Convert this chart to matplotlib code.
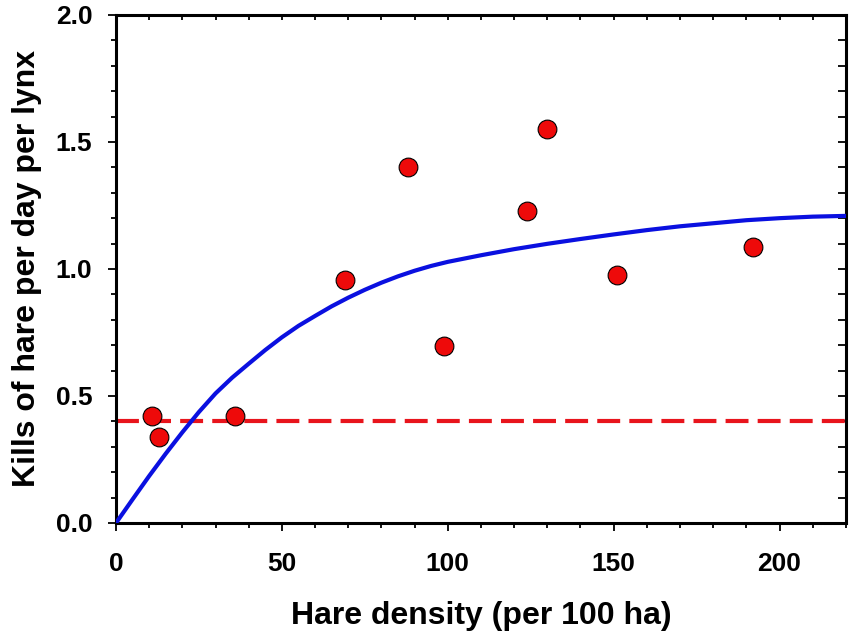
import matplotlib
matplotlib.use("Agg")
import matplotlib.pyplot as plt
from matplotlib.ticker import MultipleLocator

plt.rcParams['font.family'] = ['Liberation Sans', 'DejaVu Sans']
plt.rcParams['font.weight'] = 'bold'

# observed kills (hare density per 100 ha, kills per day per lynx)
hare_density = [11, 13, 36, 69, 88, 99, 124, 130, 151, 192]
kills = [0.42, 0.34, 0.42, 0.955, 1.40, 0.695, 1.23, 1.55, 0.975, 1.085]

# fitted functional response
curve_x = [0, 5, 10, 15, 20, 25, 30, 35, 40, 45, 50, 55, 60, 65, 70, 75,
           80, 85, 90, 95, 100, 110, 120, 130, 140, 150, 160, 170, 180,
           190, 200, 210, 220]
curve_y = [0.0, 0.093, 0.185, 0.273, 0.357, 0.437, 0.510, 0.572, 0.627,
           0.681, 0.731, 0.776, 0.815, 0.853, 0.887, 0.918, 0.946, 0.971,
           0.993, 1.012, 1.028, 1.054, 1.078, 1.099, 1.118, 1.136, 1.153,
           1.168, 1.180, 1.192, 1.200, 1.206, 1.209]

threshold = 0.4

fig = plt.figure(figsize=(8.51, 6.37), dpi=100)
ax = fig.add_axes([0.1363, 0.179, 0.994 - 0.1363, 0.9765 - 0.179])

ax.axhline(threshold, color='#e8141c', lw=3, dashes=(5.5, 2.2), zorder=2)
ax.plot(curve_x, curve_y, color='#0a10e0', lw=3, zorder=3,
        solid_joinstyle='round')
ax.plot(hare_density, kills, 'o', ms=13.5, mfc='#ee0a0a', mec='black',
        mew=0.8, zorder=4, clip_on=False)

ax.set_xlim(0, 220)
ax.set_ylim(0, 2.0)
ax.xaxis.set_major_locator(MultipleLocator(50))
ax.xaxis.set_minor_locator(MultipleLocator(10))
ax.yaxis.set_major_locator(MultipleLocator(0.5))
ax.yaxis.set_minor_locator(MultipleLocator(0.1))
ax.yaxis.set_major_formatter(lambda v, p: f"{v:.1f}")

for s in ax.spines.values():
    s.set_linewidth(2.2)

ax.tick_params(which='major', direction='out', length=6, width=1.3,
               labelsize=19, pad=15)
ax.tick_params(axis='y', which='major', pad=11)
ax.tick_params(which='minor', direction='out', length=3.5, width=1.3)

top = ax.secondary_xaxis('top')
top.xaxis.set_major_locator(MultipleLocator(10))
top.tick_params(direction='in', length=3.5, width=1.3, labeltop=False)
right = ax.secondary_yaxis('right')
right.yaxis.set_major_locator(MultipleLocator(0.1))
right.tick_params(direction='in', length=6, width=1.3, labelright=False)

ax.set_xlabel("Hare density (per 100 ha)", fontsize=23, fontweight='bold',
              labelpad=18)
ax.set_ylabel("Kills of hare per day per lynx", fontsize=23,
              fontweight='bold', labelpad=10)

fig.savefig("out.png", dpi=100)
